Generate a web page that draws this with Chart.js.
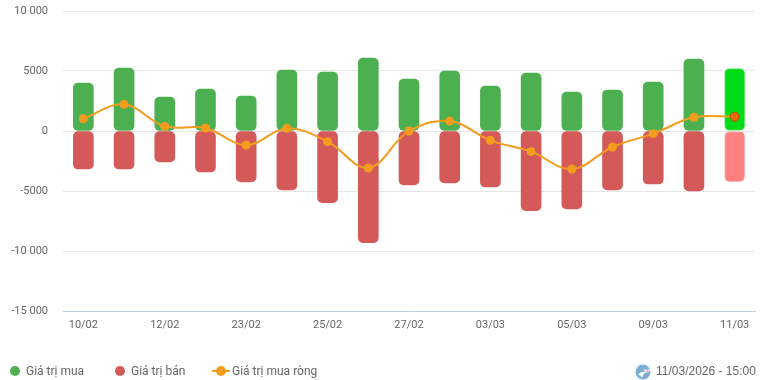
<!DOCTYPE html>
<html lang="vi">
<head>
<meta charset="utf-8">
<title>Giá trị mua bán</title>
<script src="https://cdn.jsdelivr.net/npm/chart.js@4"></script>
<style>
    html, body { margin: 0; padding: 0; background: #fff; overflow: hidden; }
    #wrap { position: relative; width: 761px; height: 380px; font-family: Roboto, sans-serif; font-size: 12px; color: #666; }
    .lg { position: absolute; top: 364px; line-height: 14px; white-space: nowrap; }
    .dot { position: absolute; top: 366px; width: 10px; height: 10px; border-radius: 50%; }
    .ln { position: absolute; top: 370px; left: 212px; width: 18px; height: 2px; background: #f39c1e; }
    .ln i { position: absolute; left: 4px; top: -4px; width: 10px; height: 10px; border-radius: 50%; background: #f39c1e; }
    #icon { position: absolute; left: 635px; top: 364px; }
</style>
</head>
<body>
<div id="wrap">
    <canvas id="chart"></canvas>
    <span class="dot" style="left:10px;background:#4caf50"></span>
    <span class="lg" style="left:26px">Giá trị mua</span>
    <span class="dot" style="left:115px;background:#d45a5a"></span>
    <span class="lg" style="left:131px">Giá trị bán</span>
    <span class="ln"><i></i></span>
    <span class="lg" style="left:232px">Giá trị mua ròng</span>
    <svg id="icon" width="16" height="16" viewBox="0 0 16 16">
        <circle cx="8" cy="8" r="7.5" fill="#7fadd6"/>
        <path d="M3 11 C5 8 8 7 11 8 C9 9 8 11 7 14 C6 12 5 11 3 11 Z" fill="#fff"/>
        <path d="M9 5 C11 6 13 6 15 5 C15 8 13 9 10 8 Z" fill="#fff"/>
        <path d="M10 7 L14 6 L13 8 Z" fill="#e58a8a"/>
    </svg>
    <span class="lg" style="left:656px;font-family:'Liberation Sans',sans-serif">11/03/2026 - 15:00</span>
</div>
<script>
const days = ['10/02', '11/02', '12/02', '13/02', '23/02', '24/02', '25/02', '26/02', '27/02',
    '02/03', '03/03', '04/03', '05/03', '06/03', '09/03', '10/03', '11/03'];
const buyValues = [4000, 5250, 2830, 3500, 2900, 5080, 4920, 6080, 4330, 5000, 3750, 4830, 3250, 3420, 4080, 6000, 5200];
const sellValues = [-3170, -3170, -2580, -3420, -4250, -4900, -5970, -9300, -4500, -4330, -4670, -6640, -6500, -4900, -4420, -5000, -4220];
const netValues = [1020, 2220, 390, 250, -1170, 220, -890, -3080, 0, 830, -780, -1720, -3170, -1330, -220, 1140, 1190];
const yTicks = [10000, 5000, 0, -5000, -10000, -15000];

const lastIdx = days.length - 1;

function fmtTick(v) {
    // nghin chi cach khi tu 10 000 tro len
    const a = Math.abs(v);
    const s = a >= 10000 ? Math.floor(a / 1000) + ' ' + String(a % 1000).padStart(3, '0') : String(a);
    return (v < 0 ? '-' : '') + s;
}

new Chart(document.getElementById('chart').getContext('2d'), {
    data: {
        labels: days,
        datasets: [
            {
                type: 'line',
                label: 'Giá trị mua ròng',
                data: netValues,
                order: 0,
                borderColor: '#f39c1e',
                borderWidth: 2,
                tension: 0.38,
                pointRadius: 4.5,
                pointBorderWidth: ctx => ctx.dataIndex === lastIdx ? 1 : 0,
                pointBorderColor: '#a8500f',
                pointBackgroundColor: ctx => ctx.dataIndex === lastIdx ? '#ee6a0a' : '#f39c1e'
            },
            {
                type: 'bar',
                label: 'Giá trị mua',
                data: buyValues,
                order: 1,
                stack: 's',
                barThickness: 20,
                backgroundColor: ctx => ctx.dataIndex === lastIdx ? '#00db18' : '#4caf50',
                borderColor: ctx => ctx.dataIndex === lastIdx ? '#5ee868' : '#4caf50',
                borderWidth: ctx => ctx.dataIndex === lastIdx ? 1 : 0,
                borderRadius: 5,
                borderSkipped: false
            },
            {
                type: 'bar',
                label: 'Giá trị bán',
                data: sellValues,
                order: 1,
                stack: 's',
                barThickness: 20,
                backgroundColor: ctx => ctx.dataIndex === lastIdx ? '#ff8080' : '#d45a5a',
                borderColor: ctx => ctx.dataIndex === lastIdx ? '#ffb3b3' : '#d45a5a',
                borderWidth: ctx => ctx.dataIndex === lastIdx ? 1 : 0,
                borderRadius: 5,
                borderSkipped: false
            }
        ]
    },
    options: {
        responsive: true,
        maintainAspectRatio: false,
        animation: false,
        layout: { padding: { top: 11, right: 6, left: 0, bottom: 0 } },
        plugins: { legend: { display: false }, tooltip: { enabled: false } },
        scales: {
            x: {
                stacked: true,
                afterFit: axis => { axis.height = 69; axis.paddingLeft = 0; axis.paddingRight = 0; },
                grid: { display: false, drawTicks: false },
                border: { color: '#c0d0e0', width: 1 },
                ticks: {
                    autoSkip: false,
                    maxRotation: 0,
                    padding: 8,
                    color: '#666',
                    font: { family: 'Roboto', size: 11 },
                    callback: function (v, i) { return i % 2 === 0 ? this.getLabelForValue(v) : ''; }
                }
            },
            y: {
                stacked: true,
                min: -15000,
                max: 10000,
                afterFit: axis => { axis.width = 63; axis.paddingTop = 0; axis.paddingBottom = 0; },
                afterBuildTicks: axis => { axis.ticks = yTicks.map(v => ({ value: v })); },
                grid: { color: '#e6e6e6', drawTicks: false },
                border: { display: false },
                ticks: {
                    padding: 15,
                    color: '#666',
                    font: { family: 'Roboto', size: 11 },
                    callback: fmtTick
                }
            }
        }
    }
});
</script>
</body>
</html>
